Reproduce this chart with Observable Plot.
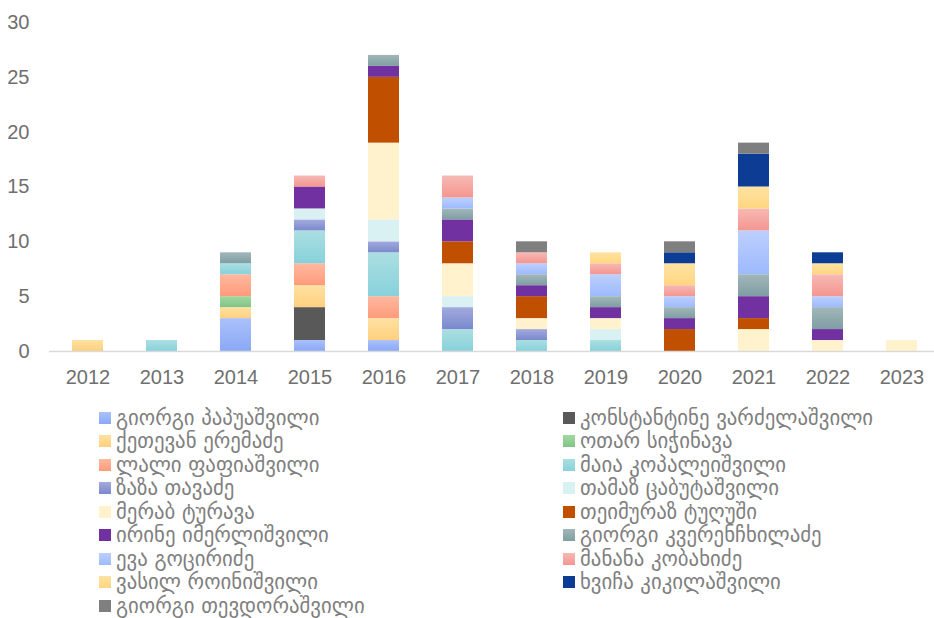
<!DOCTYPE html>
<html>
<head>
<meta charset="utf-8">
<script src="https://cdn.jsdelivr.net/npm/d3@7"></script>
<script src="https://cdn.jsdelivr.net/npm/@observablehq/plot@0.6"></script>
<style>
  html, body { margin: 0; padding: 0; background: #fff; }
  #chart { width: 934px; height: 618px; position: relative; overflow: hidden; }
  .legend { position: absolute; left: 0; top: 405px; width: 934px; }
  .item { position: absolute; display: flex; align-items: center; height: 25px;
          font-family: "DejaVu Sans", sans-serif; font-size: 20.8px; color: #7f7f7f; white-space: nowrap; }
  .sw { width: 12px; height: 12px; margin-right: 5px; flex: none; }
</style>
</head>
<body>
<div id="chart"></div>
<script>
const years = ["2012","2013","2014","2015","2016","2017","2018","2019","2020","2021","2022","2023"];
const names = [
  "გიორგი პაპუაშვილი",
  "კონსტანტინე ვარძელაშვილი",
  "ქეთევან ერემაძე",
  "ოთარ სიჭინავა",
  "ლალი ფაფიაშვილი",
  "მაია კოპალეიშვილი",
  "ზაზა თავაძე",
  "თამაზ ცაბუტაშვილი",
  "მერაბ ტურავა",
  "თეიმურაზ ტუღუში",
  "ირინე იმერლიშვილი",
  "გიორგი კვერენჩხილაძე",
  "ევა გოცირიძე",
  "მანანა კობახიძე",
  "ვასილ როინიშვილი",
  "ხვიჩა კიკილაშვილი",
  "გიორგი თევდორაშვილი"
];
// values per series, for years 2012..2023
const papuashvili      = [0,0,3,1,1,0,0,0,0,0,0,0];
const vardzelashvili   = [0,0,0,3,0,0,0,0,0,0,0,0];
const eremadze         = [1,0,1,2,2,0,0,0,0,0,0,0];
const sichinava        = [0,0,1,0,0,0,0,0,0,0,0,0];
const papiashvili      = [0,0,2,2,2,0,0,0,0,0,0,0];
const kopaleishvili    = [0,1,1,3,4,2,1,1,0,0,0,0];
const tavadze          = [0,0,0,1,1,2,1,0,0,0,0,0];
const tsabutashvili    = [0,0,0,1,2,1,0,1,0,0,0,0];
const turava           = [0,0,0,0,7,3,1,1,0,2,1,1];
const tughushi         = [0,0,0,0,6,2,2,0,2,1,0,0];
const imerlishvili     = [0,0,0,2,1,2,1,1,1,2,1,0];
const kverenchkhiladze = [0,0,1,0,1,1,1,1,1,2,2,0];
const gotsiridze       = [0,0,0,0,0,1,1,2,1,4,1,0];
const kobakhidze       = [0,0,0,1,0,2,1,1,1,2,2,0];
const roinishvili      = [0,0,0,0,0,0,0,1,2,2,1,0];
const kikilashvili     = [0,0,0,0,0,0,0,0,1,3,1,0];
const tevdorashvili    = [0,0,0,0,0,0,1,0,1,1,0,0];
const seriesValues = [papuashvili, vardzelashvili, eremadze, sichinava, papiashvili, kopaleishvili,
  tavadze, tsabutashvili, turava, tughushi, imerlishvili, kverenchkhiladze, gotsiridze,
  kobakhidze, roinishvili, kikilashvili, tevdorashvili];
const yTicks = [0,5,10,15,20,25,30];

// gradient colours [top, bottom]
const colors = [
  ["#abc1fb","#8aa8f6"],
  ["#595959","#595959"],
  ["#ffe1a2","#ffd07e"],
  ["#a3d8a3","#80c485"],
  ["#ffb8a0","#ff9b7a"],
  ["#abdfe2","#88d1da"],
  ["#a3abdd","#7a89cd"],
  ["#daf1f3","#daf1f3"],
  ["#fff2cd","#fff2cd"],
  ["#c05000","#c05000"],
  ["#7131a0","#7131a0"],
  ["#a2b7ba","#7f9ea3"],
  ["#bdd0ff","#9dbafc"],
  ["#f7b9b5","#f4968f"],
  ["#ffe3a2","#ffd680"],
  ["#0c3c94","#0c3c94"],
  ["#7f7f7f","#7f7f7f"]
];

const data = [];
names.forEach((n, i) => {
  seriesValues[i].forEach((v, j) => { if (v > 0) data.push({year: years[j], name: n, value: v}); });
});

const chart = Plot.plot({
  width: 934,
  height: 395,
  marginTop: 22,
  marginBottom: 44,
  marginLeft: 49,
  marginRight: 0,
  style: {fontFamily: "'Liberation Sans Narrow', sans-serif", fontSize: "20px", color: "#6f6f6f", background: "transparent"},
  x: {type: "band", domain: years, range: [48.8, 941], paddingInner: 0.58, paddingOuter: 0.29, label: null},
  y: {domain: [0, 30], label: null},
  color: {domain: names, range: names.map((_, i) => `url(#grad${i})`)},
  marks: [
    Plot.barY(data, Plot.stackY({x: "year", y: "value", z: "name", fill: "name", order: null})),
    Plot.ruleY([0], {stroke: "#d9d9d9", strokeWidth: 1.5}),
    Plot.axisX({tickSize: 0, tickPadding: 18, fontSize: 20, fill: "#6f6f6f", label: null}),
    Plot.axisY({ticks: yTicks, tickSize: 0, tickPadding: 20, fontSize: 20, fill: "#6f6f6f", label: null})
  ]
});

const defs = d3.select(chart).insert("defs", ":first-child");
colors.forEach(([top, bottom], i) => {
  const g = defs.append("linearGradient").attr("id", `grad${i}`).attr("x1", 0).attr("y1", 0).attr("x2", 0).attr("y2", 1);
  g.append("stop").attr("offset", "0%").attr("stop-color", top);
  g.append("stop").attr("offset", "100%").attr("stop-color", bottom);
});

const root = document.getElementById("chart");
root.appendChild(chart);

const legend = document.createElement("div");
legend.className = "legend";
names.forEach((n, i) => {
  const col = i % 2, row = Math.floor(i / 2);
  const item = document.createElement("div");
  item.className = "item";
  item.style.left = (col === 0 ? 99 : 563) + "px";
  item.style.top = (row * 23.5) + "px";
  const sw = document.createElement("span");
  sw.className = "sw";
  sw.style.background = `linear-gradient(${colors[i][0]}, ${colors[i][1]})`;
  const t = document.createElement("span");
  t.textContent = n;
  item.appendChild(sw); item.appendChild(t);
  legend.appendChild(item);
});
root.appendChild(legend);
</script>
</body>
</html>
